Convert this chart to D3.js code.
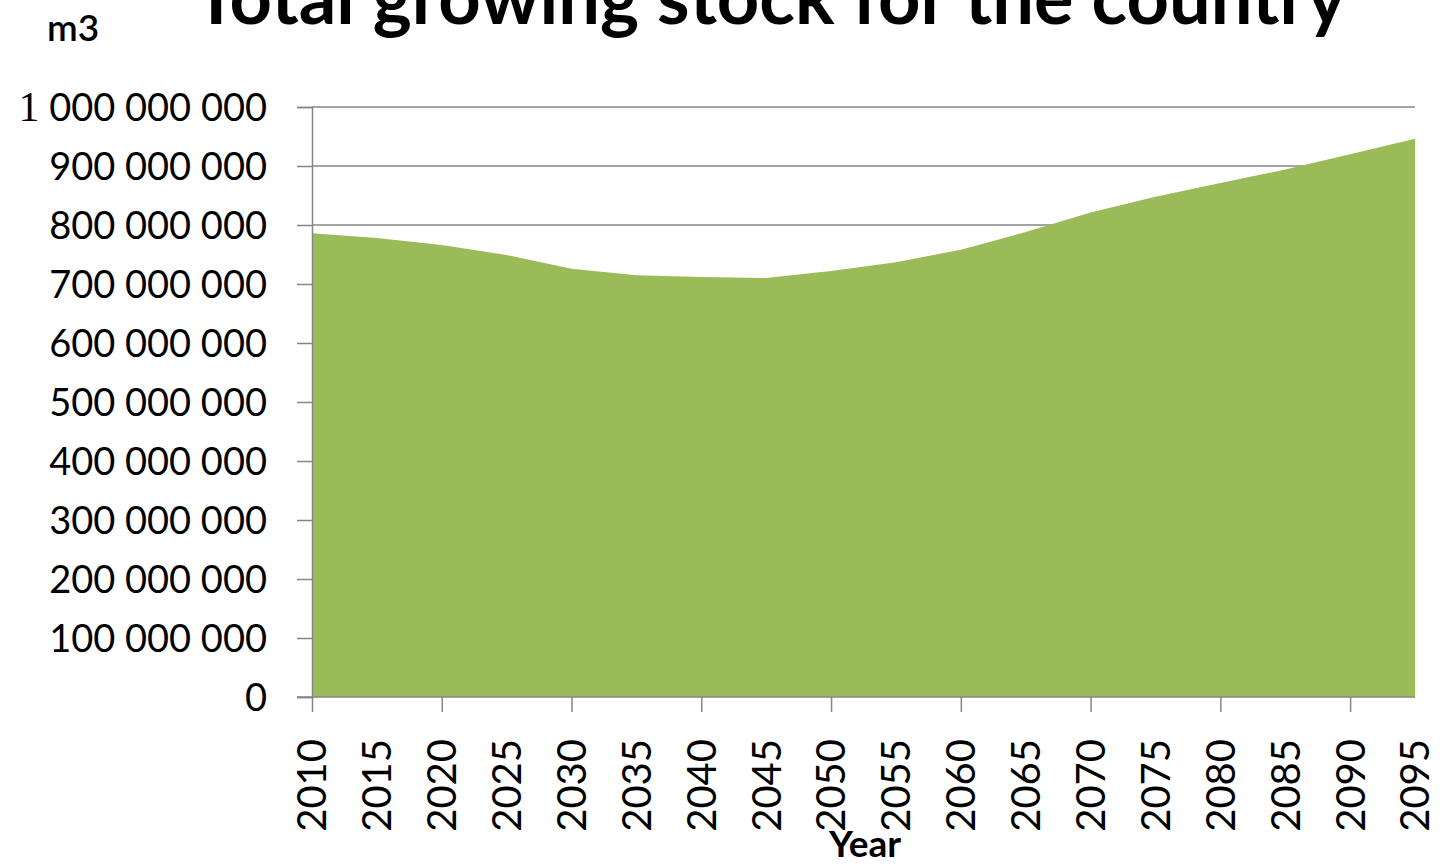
<!DOCTYPE html>
<html>
<head>
<meta charset="utf-8">
<script src="https://cdn.jsdelivr.net/npm/d3@7"></script>
<style>
  html, body { margin: 0; padding: 0; background: #fff; }
  svg { display: block; }
</style>
</head>
<body>
<svg id="chart" width="1442" height="866"></svg>
<script>
// Projected total growing stock (m3), one value per 5-year step
const years = [2010, 2015, 2020, 2025, 2030, 2035, 2040, 2045, 2050,
               2055, 2060, 2065, 2070, 2075, 2080, 2085, 2090, 2095];
const stock = [786e6, 778e6, 766e6, 749e6, 726e6, 715e6, 712e6, 710e6, 722e6,
               737e6, 758e6, 788e6, 821e6, 848e6, 871e6, 894e6, 920e6, 946e6];
const yTicks = [0, 1e8, 2e8, 3e8, 4e8, 5e8, 6e8, 7e8, 8e8, 9e8, 1e9];

const titleText = "Total growing stock for the country";
const unitText = "m3";
const xAxisTitle = "Year";

const svg = d3.select("#chart");
const plotLeft = 312, plotRight = 1415, plotTop = 107, plotBottom = 697;

const x = d3.scalePoint().domain(years).range([plotLeft, plotRight]);
const y = d3.scaleLinear().domain([0, 1e9]).range([plotBottom, plotTop]);

const locale = d3.formatLocale({ decimal: ".", thousands: " ", grouping: [3], currency: ["", ""] });
const fmt = locale.format(",");

const axisColor = "#868686";
const labelFont = "Lato, 'Open Sans', sans-serif";

// Horizontal gridlines
svg.append("g")
  .selectAll("line")
  .data(yTicks.filter(d => d > 0))
  .join("line")
  .attr("x1", plotLeft).attr("x2", plotRight)
  .attr("y1", d => y(d)).attr("y2", d => y(d))
  .attr("stroke", axisColor).attr("stroke-width", 1.5);

// Area
const area = d3.area()
  .x((d, i) => x(years[i]))
  .y0(y(0))
  .y1(d => y(d));
svg.append("path")
  .datum(stock)
  .attr("d", area)
  .attr("fill", "#9BBB59");

// Y axis
const yAxis = d3.axisLeft(y)
  .tickValues(yTicks)
  .tickSize(15)
  .tickPadding(30)
  .tickFormat(fmt);
const gy = svg.append("g").attr("transform", `translate(${plotLeft},0)`).call(yAxis);
gy.select(".domain").attr("stroke", axisColor).attr("stroke-width", 1.5);
gy.selectAll(".tick line").attr("stroke", axisColor).attr("stroke-width", 1.5);
gy.selectAll(".tick text")
  .attr("font-family", labelFont)
  .attr("font-size", 38)
  .attr("fill", "#000")
  .attr("dy", "0.36em");
// Top label: leading digit drawn in a serif face
gy.selectAll(".tick text")
  .filter(d => d === 1e9)
  .each(function(d) {
    const t = d3.select(this);
    const s = fmt(d);
    t.text(null);
    t.append("tspan").attr("font-family", "'Liberation Serif', serif").attr("font-size", 42).text(s.slice(0, 1));
    t.append("tspan").text(s.slice(1));
  });

// X axis line and ticks (ticks every 10 years)
const xAxis = d3.axisBottom(x)
  .tickValues(years.filter(d => d % 10 === 0))
  .tickSize(15)
  .tickFormat("");
const gx = svg.append("g").attr("transform", `translate(0,${plotBottom})`).call(xAxis);
gx.select(".domain").attr("stroke", axisColor).attr("stroke-width", 1.5)
  .attr("d", `M${plotLeft - 15},0H${plotRight}`);
gx.selectAll(".tick line").attr("stroke", axisColor).attr("stroke-width", 1.5);

// X labels, rotated
svg.append("g")
  .selectAll("text")
  .data(years)
  .join("text")
  .attr("transform", d => `translate(${x(d)},${plotBottom + 42}) rotate(-90)`)
  .attr("text-anchor", "end")
  .attr("dy", "0.36em")
  .attr("font-family", labelFont)
  .attr("font-size", 40)
  .attr("fill", "#000")
  .text(d => d);

// Axis title
svg.append("text")
  .attr("x", 865).attr("y", 857)
  .attr("text-anchor", "middle")
  .attr("font-family", labelFont)
  .attr("font-weight", "bold")
  .attr("font-size", 37)
  .text(xAxisTitle);

// Unit label
svg.append("text")
  .attr("x", 47).attr("y", 41)
  .attr("font-family", labelFont)
  .attr("font-size", 37)
  .attr("font-weight", 600)
  .text(unitText);

// Chart title
svg.append("text")
  .attr("x", 770).attr("y", 24)
  .attr("text-anchor", "middle")
  .attr("font-family", labelFont)
  .attr("font-weight", "bold")
  .attr("font-size", 74)
  .text(titleText);
</script>
</body>
</html>
